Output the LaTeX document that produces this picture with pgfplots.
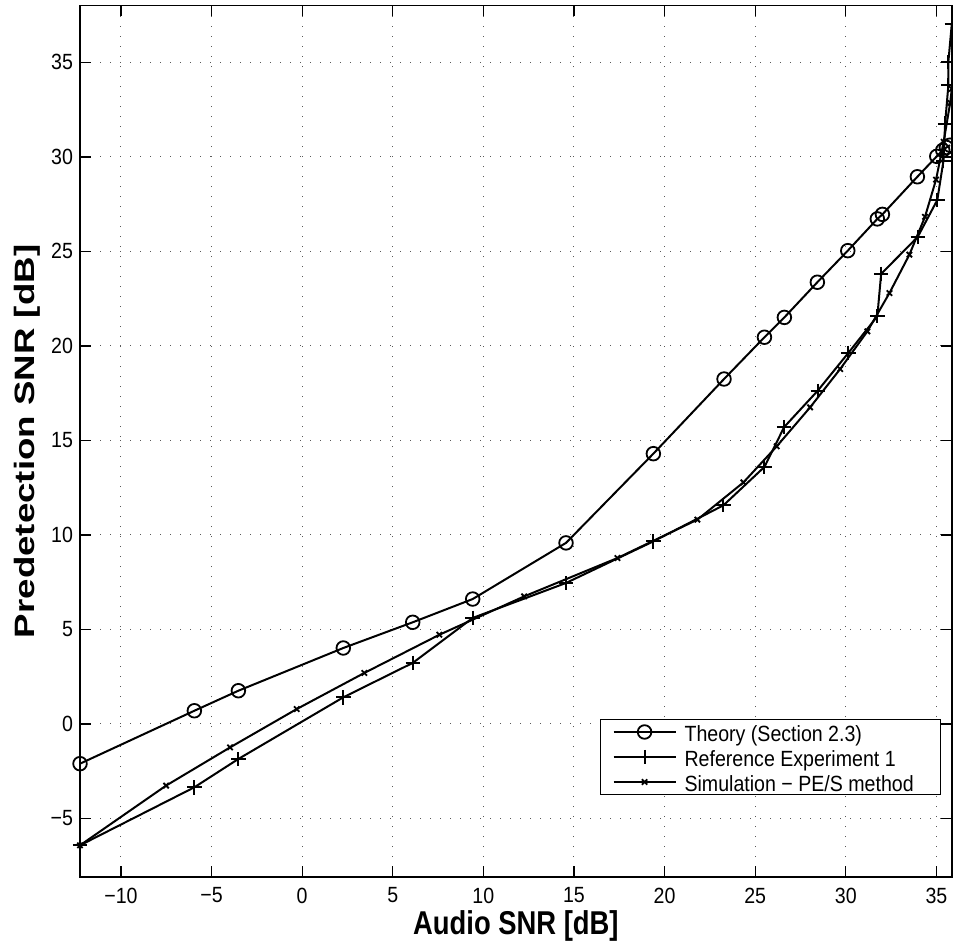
\documentclass[border=0pt]{standalone}
\usepackage{fontspec}
\setmainfont{Liberation Sans}[FakeStretch=0.89]
\newfontfamily\xlabfont{Liberation Sans}[FakeStretch=0.83]
\newfontfamily\ylabfont{Liberation Sans}[FakeStretch=1.31]
\usepackage{pgfplots}
\pgfplotsset{compat=1.18}
\newcommand\lent[1]{\makebox[121.8pt][l]{\rule[-6pt]{0pt}{17pt}#1}}
\begin{document}
\begin{tikzpicture}
\begin{axis}[
  name=ax, scale only axis, width=435.85pt, height=435.65pt,
  xmin=-12.26, xmax=35.85, ymin=-8.1, ymax=38.0,
  xtick={-10,-5,0,5,10,15,20,25,30,35},
  xticklabels={−10,−5,0,5,10,15,20,25,30,35},
  ytick={-5,0,5,10,15,20,25,30,35},
  yticklabels={−5,0,5,10,15,20,25,30,35},
  tick align=inside, xtick pos=both, ytick pos=both,
  major tick length=5.3pt,
  tick style={black, line width=0.6pt},
  axis line style={line width=0.8pt},
  grid=major,
  major grid style={black!65, line width=0.5pt, dash pattern=on 0.6pt off 4.4pt},
  tick label style={font=\fontsize{11}{12}\selectfont},
  xticklabel style={yshift=-1.8pt},
  xlabel={Audio SNR [dB]},
  ylabel={Predetection SNR [dB]},
  xlabel style={font=\xlabfont\bfseries\fontsize{16.5}{18}\selectfont, at={(axis description cs:0.5,0)}, anchor=north, inner sep=0pt, yshift=-16.5pt},
  ylabel style={font=\ylabfont\bfseries\fontsize{14}{16}\selectfont, at={([xshift=-19.6pt]axis description cs:0,0.5)}, anchor=south, inner sep=0pt},
  clip mode=individual,
  legend cell align=left,
  legend style={at={(axis description cs:0.9874,0.0941)}, anchor=south east, draw=black, line width=0.6pt,
    font=\fontsize{11}{12}\selectfont, inner xsep=6pt, inner ysep=0pt, row sep=0pt, column sep=4pt,
    nodes={inner sep=0pt}},
  legend image code/.code={\draw[mark repeat=2,mark phase=2,#1] plot coordinates {(0pt,0pt) (15.5pt,0pt) (31pt,0pt)};},
]
\addplot[black, line width=1pt, mark=o, mark size=3.4pt, mark options={solid, line width=0.9pt}] coordinates {
(-12.26,-2.10) (-5.95,0.70) (-3.52,1.76) (2.27,4.02) (6.10,5.38) (9.41,6.61)
(14.56,9.58) (19.38,14.30) (23.28,18.25) (25.51,20.46) (26.61,21.51) (28.43,23.37)
(30.11,25.04) (31.74,26.72) (32.02,26.96) (33.95,28.95) (35.02,30.03) (35.35,30.35)
(35.55,30.50) (35.75,30.62)
};
\addplot[black, line width=1pt, mark=+, mark size=3.6pt, mark options={solid, line width=1pt}] coordinates {
(-12.26,-6.42) (-5.95,-3.35) (-3.52,-1.85) (2.27,1.41) (6.10,3.23) (9.41,5.61)
(14.56,7.46) (19.38,9.66) (23.25,11.57) (25.51,13.60) (26.60,15.71) (28.45,17.63)
(30.14,19.63) (31.74,21.57) (31.95,23.81) (33.97,25.77) (35.05,27.72) (35.39,29.80)
(35.48,31.76) (35.66,33.79) (35.66,35.03) (35.85,37.05)
};
\addplot[black, line width=1pt, mark=x, mark size=1.9pt, mark options={solid, line width=0.9pt}] coordinates {
(-12.26,-6.42) (-7.51,-3.26) (-3.98,-1.24) (-0.30,0.79) (3.43,2.70) (7.57,4.72)
(12.25,6.75) (17.40,8.78) (21.81,10.81) (24.35,12.78) (26.19,14.69) (28.03,16.75)
(29.69,18.78) (31.19,20.77) (32.41,22.80) (33.51,24.83) (34.37,26.83) (34.98,28.80)
(35.40,30.80) (35.76,32.86) (35.85,33.6)
};
\legend{\lent{Theory (Section 2.3)},\lent{Reference Experiment 1},\lent{Simulation − PE/S method}}
\end{axis}
\pgfresetboundingbox
\path[use as bounding box] ([shift={(-40pt,-35pt)}]ax.south west) rectangle ([shift={(0.6pt,2.85pt)}]ax.north east);
\end{tikzpicture}
\end{document}
